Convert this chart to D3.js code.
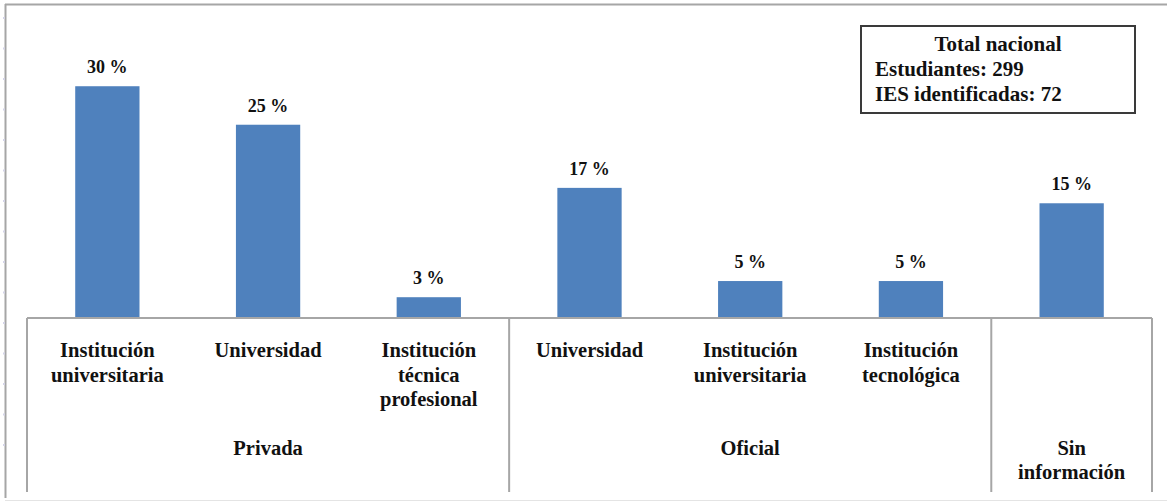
<!DOCTYPE html>
<html>
<head>
<meta charset="utf-8">
<script src="https://cdn.jsdelivr.net/npm/d3@7"></script>
<style>
  html, body { margin: 0; padding: 0; background: #fff; }
  svg { display: block; }
  text { font-family: "Liberation Serif", "Tinos", "DejaVu Serif", serif; font-weight: bold; fill: #111; }
</style>
</head>
<body>
<svg id="chart" width="1167" height="502"></svg>
<script>
// ---- data ----
const categoryLines = [
  ["Institución", "universitaria"],
  ["Universidad"],
  ["Institución", "técnica", "profesional"],
  ["Universidad"],
  ["Institución", "universitaria"],
  ["Institución", "tecnológica"],
  []
];
const values = [30.1, 25.1, 2.7, 16.9, 4.8, 4.8, 14.9];
const valueLabels = ["30 %", "25 %", "3 %", "17 %", "5 %", "5 %", "15 %"];
const groupNames = [["Privada"], ["Oficial"], ["Sin", "información"]];
const groupSizes = [3, 3, 1];
const boxTitle = "Total nacional";
const boxLines = ["Estudiantes: 299", "IES identificadas: 72"];

// ---- drawing ----
const svg = d3.select("#chart");
const W = 1167, H = 502;
const left = 27, right = 1152, base = 318, axisBottom = 492;

const idx = values.map((d, i) => i);
const x = d3.scaleBand().domain(idx).range([left, right]).paddingInner(0.6).paddingOuter(0.3);
const y = d3.scaleLinear().domain([0, 35]).range([base, base - 35 * 7.7]);

// outer chart frame
svg.append("line").attr("x1", 5).attr("x2", W).attr("y1", 4.5).attr("y2", 4.5)
  .attr("stroke", "#a6a6a6").attr("stroke-width", 2);
svg.append("line").attr("x1", 5.5).attr("x2", 5.5).attr("y1", 4).attr("y2", 498)
  .attr("stroke", "#a6a6a6").attr("stroke-width", 2);
svg.append("line").attr("x1", 5).attr("x2", W).attr("y1", 500.5).attr("y2", 500.5)
  .attr("stroke", "#e4e4e4").attr("stroke-width", 1);

// faint marks along the left edge
svg.append("g").selectAll("rect").data(d3.range(17, 470, 30.5)).join("rect")
  .attr("x", 3).attr("y", d => d).attr("width", 2).attr("height", 2)
  .attr("fill", "#d4d4e6");

// bars
svg.append("g").selectAll("rect").data(values).join("rect")
  .attr("x", (d, i) => x(i))
  .attr("y", d => y(d))
  .attr("width", x.bandwidth())
  .attr("height", d => y(0) - y(d))
  .attr("fill", "#4f81bd");

// value labels
svg.append("g").selectAll("text").data(values).join("text")
  .attr("x", (d, i) => x(i) + x.bandwidth() / 2)
  .attr("y", d => y(d) - 13)
  .attr("text-anchor", "middle")
  .attr("font-size", 18)
  .text((d, i) => valueLabels[i]);

// category axis baseline
const axisColor = "#a6a6a6";
svg.append("line").attr("x1", left).attr("x2", right).attr("y1", base).attr("y2", base)
  .attr("stroke", axisColor).attr("stroke-width", 2);

// group dividers
const step = x.step();
let cum = 0;
const bounds = [0];
groupSizes.forEach(s => { cum += s; bounds.push(cum); });
svg.append("g").selectAll("line").data(bounds).join("line")
  .attr("x1", b => left + b * step).attr("x2", b => left + b * step)
  .attr("y1", base).attr("y2", axisBottom)
  .attr("stroke", axisColor).attr("stroke-width", 2);

// category labels
const catG = svg.append("g");
categoryLines.forEach((lines, i) => {
  const t = catG.append("text")
    .attr("x", x(i) + x.bandwidth() / 2)
    .attr("y", 357)
    .attr("text-anchor", "middle")
    .attr("font-size", 20.5);
  lines.forEach((l, j) => {
    t.append("tspan").attr("x", x(i) + x.bandwidth() / 2).attr("y", 357 + j * 24.5).text(l);
  });
});

// group labels
const grpG = svg.append("g");
groupNames.forEach((lines, g) => {
  const cx = left + (bounds[g] + bounds[g + 1]) / 2 * step;
  const t = grpG.append("text").attr("text-anchor", "middle").attr("font-size", 20.5);
  lines.forEach((l, j) => {
    t.append("tspan").attr("x", cx).attr("y", 455 + j * 23.5).text(l);
  });
});

// info box
const box = svg.append("g");
box.append("rect").attr("x", 861).attr("y", 26).attr("width", 274).attr("height", 87)
  .attr("fill", "#fff").attr("stroke", "#3a3a3a").attr("stroke-width", 2);
box.append("text").attr("x", 998).attr("y", 51).attr("text-anchor", "middle")
  .attr("font-size", 21).text(boxTitle);
boxLines.forEach((l, j) => {
  box.append("text").attr("x", 875).attr("y", 76 + j * 25)
    .attr("font-size", 21).text(l);
});
</script>
</body>
</html>
